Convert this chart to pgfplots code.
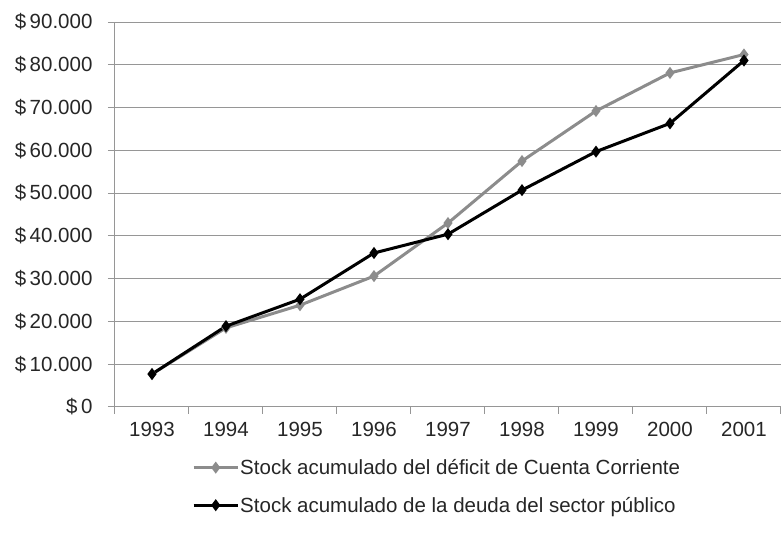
\documentclass[border=0pt]{standalone}
\usepackage{pgfplots}
\pgfplotsset{compat=1.18}
\usepackage{fontspec}
\setmainfont{Liberation Sans}
\definecolor{serA}{RGB}{140,140,140}
\definecolor{gridc}{RGB}{150,150,150}
\begin{document}
\begin{tikzpicture}[x=1pt,y=1pt]
\begin{axis}[
  name=ax,
  at={(0,0)}, anchor=south west,
  scale only axis, width=666pt, height=385pt,
  xmin=-0.5, xmax=8.5, ymin=0, ymax=90000,
  scaled y ticks=false,
  axis x line*=bottom, axis y line*=left,
  axis line style={gridc, line width=1pt},
  xtick={0,...,8},
  xticklabels={1993,1994,1995,1996,1997,1998,1999,2000,2001},
  major x tick style={draw=none},
  minor xtick={-0.5,0.5,...,8.5},
  minor x tick style={gridc, line width=1pt},
  minor tick length=7pt,
  ytick={0,10000,...,90000},
  yticklabels={\$\,0,\$\,10.000,\$\,20.000,\$\,30.000,\$\,40.000,\$\,50.000,\$\,60.000,\$\,70.000,\$\,80.000,\$\,90.000},
  major y tick style={gridc, line width=1pt},
  major tick length=7pt,
  tick align=outside,
  ymajorgrids, grid style={gridc, line width=1pt},
  ticklabel style={font=\fontsize{20.5}{24}\selectfont, text=black!85},
  yticklabel style={xshift=-12pt},
  xticklabel style={yshift=-5pt},
  legend style={at={(0.483,-0.125)}, anchor=north, draw=none, fill=none,
    font=\fontsize{20.5}{24}\selectfont, row sep=17pt, cells={anchor=west},
    nodes={inner xsep=1pt, text=black!85}},
  legend cell align=left,
  legend image code/.code={\draw[#1] (0pt,0pt) -- (44pt,0pt); \draw[#1, mark repeat=1] plot coordinates {(22pt,0pt)};},
  clip=false,
]
\addplot[serA, line width=3pt, mark=diamond*, mark size=3.6pt, mark options={solid}]
coordinates {(0,7700) (1,18500) (2,23800) (3,30600) (4,43000) (5,57500) (6,69200) (7,78100) (8,82400)};
\addlegendentry{Stock acumulado del déficit de Cuenta Corriente}
\addplot[black, line width=3pt, mark=diamond*, mark size=3.6pt, mark options={solid}]
coordinates {(0,7700) (1,18900) (2,25200) (3,36000) (4,40400) (5,50700) (6,59700) (7,66300) (8,81000)};
\addlegendentry{Stock acumulado de la deuda del sector público}
\end{axis}
\path (ax.south west) ++(-115pt,-139pt) rectangle ++(782pt,546pt);
\end{tikzpicture}
\end{document}
